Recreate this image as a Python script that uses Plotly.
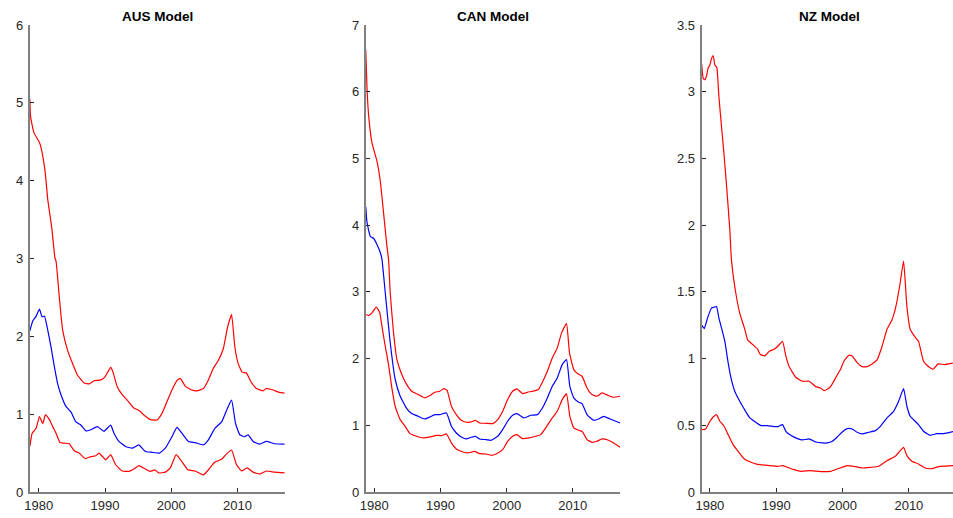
import plotly.graph_objects as go

# ---------------- data ----------------
titles = ["AUS Model", "CAN Model", "NZ Model"]
x_ticks = [1980, 1990, 2000, 2010]

aus_upper_x = [1978.65, 1978.75, 1979.25, 1980.1, 1980.35, 1980.95, 1981.35, 1981.95, 1982.45, 1982.6, 1983.1, 1983.6,
               1984.35, 1985.1, 1985.85, 1986.85, 1987.6, 1988.35, 1989.35, 1990.0, 1990.85, 1991.2, 1991.85, 1992.6,
               1993.35, 1994.35, 1995.1, 1995.85, 1996.85, 1997.85, 1998.6, 1999.35, 2000.1, 2000.85, 2001.35, 2002.1,
               2003.1, 2003.85, 2004.85, 2005.6, 2006.35, 2007.1, 2007.85, 2008.5, 2009.1, 2009.6, 2010.1, 2010.7,
               2011.35, 2012.0, 2012.85, 2013.85, 2014.35, 2015.35, 2016.35, 2017.1]
aus_upper_y = [5.05, 4.83, 4.62, 4.49, 4.42, 4.12, 3.76, 3.40, 3.00, 2.97, 2.50, 2.08,
               1.82, 1.65, 1.50, 1.40, 1.39, 1.43, 1.44, 1.48, 1.60, 1.54, 1.35, 1.25,
               1.18, 1.08, 1.05, 0.99, 0.93, 0.925, 1.01, 1.16, 1.31, 1.43, 1.46, 1.36,
               1.31, 1.30, 1.33, 1.44, 1.59, 1.69, 1.84, 2.12, 2.28, 1.86, 1.65, 1.54,
               1.53, 1.42, 1.33, 1.30, 1.33, 1.31, 1.28, 1.27]

aus_mid_x = [1978.65, 1979.1, 1979.6, 1980.1, 1980.5, 1980.85, 1981.35, 1981.85, 1982.35, 1982.85, 1983.35, 1984.1,
             1984.85, 1985.6, 1986.35, 1987.1, 1987.85, 1988.85, 1989.85, 1990.85, 1991.35, 1992.1, 1993.1, 1994.1,
             1995.1, 1996.1, 1997.1, 1998.2, 1999.1, 2000.1, 2000.85, 2001.6, 2002.6, 2003.6, 2004.85, 2005.6,
             2006.6, 2007.6, 2008.35, 2009.1, 2009.7, 2010.35, 2011.1, 2011.6, 2012.35, 2013.35, 2014.35, 2015.6,
             2017.1]
aus_mid_y = [2.07, 2.20, 2.26, 2.35, 2.25, 2.26, 2.08, 1.86, 1.61, 1.39, 1.25, 1.10,
             1.03, 0.90, 0.86, 0.785, 0.80, 0.84, 0.78, 0.86, 0.755, 0.65, 0.585, 0.563,
             0.605, 0.52, 0.51, 0.50, 0.563, 0.71, 0.83, 0.755, 0.65, 0.635, 0.605, 0.67,
             0.82, 0.90, 1.05, 1.18, 0.88, 0.735, 0.71, 0.735, 0.65, 0.615, 0.65, 0.62,
             0.615]

aus_lower_x = [1978.65, 1979.0, 1979.6, 1980.1, 1980.6, 1981.0, 1981.6, 1982.1, 1982.6, 1983.2, 1983.85, 1984.6,
               1985.35, 1986.1, 1987.0, 1987.85, 1988.6, 1989.1, 1990.1, 1990.85, 1991.6, 1992.6, 1993.6, 1994.35,
               1995.1, 1996.1, 1996.85, 1997.5, 1998.1, 1999.1, 1999.85, 2000.75, 2001.6, 2002.5, 2003.6, 2004.85,
               2005.6, 2006.5, 2007.6, 2008.35, 2009.1, 2009.85, 2010.6, 2011.45, 2012.35, 2013.35, 2014.35, 2015.6,
               2017.1]
aus_lower_y = [0.585, 0.755, 0.82, 0.97, 0.88, 0.99, 0.93, 0.84, 0.755, 0.635, 0.627, 0.62,
               0.53, 0.50, 0.43, 0.455, 0.465, 0.50, 0.415, 0.48, 0.35, 0.27, 0.265, 0.295,
               0.34, 0.295, 0.265, 0.285, 0.245, 0.255, 0.31, 0.48, 0.39, 0.285, 0.27, 0.22,
               0.285, 0.38, 0.42, 0.49, 0.54, 0.35, 0.27, 0.31, 0.255, 0.23, 0.27, 0.255,
               0.245]

can_upper_x = [1978.7, 1978.9, 1979.15, 1979.65, 1980.4, 1980.9, 1981.4, 1981.9, 1982.15, 1982.4, 1982.9, 1983.4,
               1984.15, 1984.9, 1985.65, 1986.65, 1987.65, 1988.4, 1989.15, 1989.9, 1990.5, 1991.0, 1991.65, 1992.4,
               1993.15, 1993.9, 1994.65, 1995.3, 1995.9, 1996.9, 1997.9, 1998.65, 1999.4, 2000.15, 2000.9, 2001.55,
               2002.4, 2003.15, 2003.9, 2004.8, 2005.4, 2006.15, 2006.9, 2007.65, 2008.3, 2009.05, 2009.5, 2010.15,
               2010.8, 2011.4, 2012.15, 2012.9, 2013.65, 2014.4, 2015.4, 2016.15, 2017.15]
can_upper_y = [6.63, 6.04, 5.63, 5.23, 4.96, 4.66, 4.18, 3.69, 3.49, 2.99, 2.39, 1.99,
               1.76, 1.61, 1.51, 1.46, 1.41, 1.445, 1.495, 1.51, 1.55, 1.525, 1.285, 1.16,
               1.075, 1.045, 1.05, 1.075, 1.035, 1.03, 1.025, 1.085, 1.21, 1.385, 1.51, 1.545,
               1.475, 1.495, 1.51, 1.535, 1.645, 1.81, 2.01, 2.16, 2.385, 2.525, 2.085, 1.835,
               1.77, 1.735, 1.56, 1.46, 1.435, 1.485, 1.445, 1.42, 1.435]

can_mid_x = [1978.7, 1978.9, 1979.4, 1979.9, 1980.4, 1980.9, 1981.15, 1981.65, 1982.4, 1983.15, 1983.9, 1984.9,
             1985.65, 1986.4, 1987.15, 1987.65, 1988.4, 1989.15, 1989.9, 1990.9, 1991.65, 1992.4, 1993.15, 1993.9,
             1994.65, 1995.3, 1995.9, 1996.9, 1997.65, 1998.65, 1999.4, 2000.15, 2000.9, 2001.55, 2002.65, 2003.65,
             2004.65, 2005.4, 2006.15, 2006.9, 2007.65, 2008.4, 2009.05, 2009.55, 2010.15, 2010.9, 2011.4, 2012.15,
             2013.15, 2013.9, 2014.65, 2015.65, 2017.15]
can_mid_y = [4.28, 4.04, 3.83, 3.80, 3.71, 3.59, 3.49, 2.99, 2.24, 1.69, 1.44, 1.25,
             1.175, 1.145, 1.11, 1.095, 1.125, 1.16, 1.16, 1.185, 0.985, 0.885, 0.825, 0.795,
             0.82, 0.835, 0.795, 0.785, 0.775, 0.835, 0.935, 1.06, 1.15, 1.175, 1.11, 1.15,
             1.16, 1.26, 1.41, 1.585, 1.71, 1.91, 1.985, 1.585, 1.41, 1.345, 1.325, 1.16,
             1.075, 1.095, 1.135, 1.095, 1.035]

can_lower_x = [1978.7, 1979.15, 1979.65, 1980.3, 1980.8, 1981.15, 1981.65, 1982.15, 1982.65, 1983.15, 1983.9, 1984.65,
               1985.4, 1986.4, 1987.4, 1988.4, 1989.4, 1990.15, 1990.9, 1991.65, 1992.4, 1993.4, 1994.15, 1995.15,
               1995.9, 1996.9, 1997.65, 1998.4, 1999.4, 2000.15, 2000.9, 2001.55, 2002.4, 2003.4, 2004.4, 2005.15,
               2005.9, 2006.9, 2007.65, 2008.4, 2009.05, 2009.55, 2010.15, 2010.9, 2011.4, 2012.15, 2012.9, 2013.65,
               2014.4, 2015.4, 2016.4, 2017.15]
can_lower_y = [2.66, 2.645, 2.685, 2.77, 2.695, 2.485, 2.185, 1.91, 1.56, 1.285, 1.085, 0.985,
               0.875, 0.835, 0.81, 0.825, 0.85, 0.845, 0.87, 0.735, 0.645, 0.60, 0.585, 0.61,
               0.575, 0.57, 0.55, 0.57, 0.635, 0.76, 0.835, 0.86, 0.80, 0.81, 0.835, 0.86,
               0.96, 1.11, 1.21, 1.385, 1.47, 1.135, 0.96, 0.925, 0.91, 0.785, 0.745, 0.76,
               0.795, 0.775, 0.72, 0.67]

nz_upper_x = [1978.75, 1979.0, 1979.25, 1979.5, 1979.75, 1980.0, 1980.25, 1980.5, 1980.75, 1981.05, 1981.35, 1981.75,
              1982.15, 1982.55, 1983.0, 1983.25, 1983.75, 1984.5, 1985.2, 1985.7, 1986.45, 1987.2, 1987.6, 1988.3,
              1988.95, 1989.7, 1990.2, 1990.95, 1991.45, 1991.95, 1992.95, 1993.95, 1994.95, 1995.95, 1996.7, 1997.2,
              1997.7, 1998.2, 1998.95, 1999.7, 2000.2, 2000.95, 2001.45, 2002.2, 2002.95, 2003.7, 2004.45, 2005.2,
              2005.95, 2006.7, 2007.45, 2007.95, 2008.6, 2009.2, 2009.7, 2010.2, 2010.95, 2011.45, 2012.2, 2012.95,
              2013.65, 2014.4, 2015.4, 2016.65, 2017.1]
nz_upper_y = [3.21, 3.10, 3.09, 3.12, 3.18, 3.20, 3.25, 3.27, 3.20, 3.18, 2.97, 2.74,
              2.52, 2.27, 1.97, 1.74, 1.54, 1.34, 1.23, 1.14, 1.105, 1.07, 1.03, 1.02,
              1.055, 1.07, 1.09, 1.13, 1.02, 0.94, 0.86, 0.83, 0.83, 0.79, 0.78, 0.76,
              0.77, 0.79, 0.855, 0.92, 0.98, 1.025, 1.02, 0.97, 0.94, 0.94, 0.96, 0.99,
              1.09, 1.22, 1.29, 1.37, 1.54, 1.73, 1.39, 1.22, 1.16, 1.13, 0.98, 0.94,
              0.92, 0.96, 0.955, 0.967, 0.97]

nz_mid_x = [1978.75, 1979.15, 1979.65, 1980.25, 1980.65, 1981.0, 1981.35, 1981.75, 1982.25, 1982.75, 1983.25, 1983.75,
            1984.5, 1985.2, 1985.95, 1986.7, 1987.7, 1988.7, 1989.7, 1990.3, 1990.95, 1991.45, 1992.2, 1993.2,
            1993.95, 1994.95, 1995.95, 1996.95, 1997.7, 1998.45, 1999.2, 1999.95, 2000.7, 2001.45, 2002.2, 2002.95,
            2003.95, 2004.95, 2005.7, 2006.7, 2007.7, 2008.45, 2009.2, 2009.7, 2010.2, 2010.95, 2011.45, 2012.2,
            2013.2, 2014.2, 2015.2, 2016.65, 2017.1]
nz_mid_y = [1.25, 1.225, 1.305, 1.38, 1.385, 1.39, 1.305, 1.23, 1.13, 0.97, 0.84, 0.755,
            0.68, 0.62, 0.56, 0.53, 0.4975, 0.4975, 0.49, 0.49, 0.505, 0.455, 0.425, 0.40,
            0.39, 0.3975, 0.375, 0.3675, 0.3675, 0.38, 0.4125, 0.45, 0.475, 0.4725, 0.4475, 0.435,
            0.4475, 0.46, 0.4925, 0.555, 0.605, 0.68, 0.775, 0.6425, 0.5675, 0.53, 0.505, 0.455,
            0.425, 0.4375, 0.4375, 0.452, 0.46]

nz_lower_x = [1978.75, 1979.35, 1980.0, 1980.5, 1981.0, 1981.5, 1982.15, 1982.75, 1983.5, 1984.25, 1985.2, 1986.2,
              1987.2, 1988.7, 1990.2, 1990.95, 1991.7, 1992.7, 1993.7, 1995.2, 1996.7, 1998.2, 1999.2, 2000.7,
              2001.7, 2002.95, 2004.2, 2005.45, 2006.7, 2007.95, 2008.7, 2009.2, 2009.7, 2010.45, 2011.45, 2012.45,
              2013.45, 2014.7, 2016.65, 2017.1]
nz_lower_y = [0.4675, 0.4725, 0.53, 0.5625, 0.58, 0.53, 0.4925, 0.43, 0.355, 0.305, 0.2475, 0.2225,
              0.2075, 0.20, 0.1925, 0.1975, 0.185, 0.1675, 0.155, 0.16, 0.1525, 0.155, 0.1725, 0.1975,
              0.1925, 0.18, 0.185, 0.1925, 0.235, 0.2675, 0.31, 0.335, 0.2725, 0.23, 0.21, 0.18,
              0.175, 0.1925, 0.197, 0.20]

# ---------------- figure ----------------
W, H = 953, 518
m_t, m_b = 25, 26
font_family = "Liberation Sans, Arial, Helvetica, sans-serif"

panels = [
    dict(series=[(aus_upper_x, aus_upper_y, "red"), (aus_mid_x, aus_mid_y, "blue"), (aus_lower_x, aus_lower_y, "red")],
         xdom=[24 / W, 281 / W], xrange=[1978.65, 2017.2], yrange=[0, 6], dtick=1),
    dict(series=[(can_upper_x, can_upper_y, "red"), (can_mid_x, can_mid_y, "blue"), (can_lower_x, can_lower_y, "red")],
         xdom=[362 / W, 618 / W], xrange=[1978.7, 2017.15], yrange=[0, 7], dtick=1),
    dict(series=[(nz_upper_x, nz_upper_y, "red"), (nz_mid_x, nz_mid_y, "blue"), (nz_lower_x, nz_lower_y, "red")],
         xdom=[700 / W, 1.0], xrange=[1978.75, 2016.65], yrange=[0, 3.5], dtick=0.5),
]

fig = go.Figure()
axis_common = dict(showgrid=False, zeroline=False, showline=True, linecolor="#808080", linewidth=2,
                   ticks="inside", ticklen=4, tickcolor="#262626", tickwidth=1,
                   tickfont=dict(family=font_family, size=13, color="#262626"), mirror=False)

color_map = {"red": "#ff0000", "blue": "#0000ff"}
for i, p in enumerate(panels):
    idx = "" if i == 0 else str(i + 1)
    for sx, sy, c in p["series"]:
        fig.add_trace(go.Scatter(x=sx, y=sy, mode="lines",
                                 line=dict(color=color_map[c], width=1.2, shape="spline", smoothing=0.4),
                                 xaxis="x" + idx, yaxis="y" + idx, showlegend=False, hoverinfo="skip"))
    fig.update_layout(**{
        "xaxis" + idx: dict(axis_common, domain=p["xdom"], range=p["xrange"], tickmode="array",
                            tickvals=x_ticks, anchor="y" + idx),
        "yaxis" + idx: dict(axis_common, domain=[0, 1], range=p["yrange"], dtick=p["dtick"], tick0=0,
                            anchor="x" + idx, ticklabelstandoff=2),
    })
    fig.add_annotation(text="<b>%s</b>" % titles[i], xref="paper", yref="paper",
                       x=(p["xdom"][0] + p["xdom"][1]) / 2 if i < 2 else (700 + 128.5) / W,
                       y=1 + 9 / (H - m_t - m_b), xanchor="center", yanchor="middle", showarrow=False,
                       font=dict(family=font_family, size=13.5, color="#000000"))

fig.update_layout(width=W, height=H, margin=dict(l=0, r=0, t=m_t, b=m_b),
                  paper_bgcolor="white", plot_bgcolor="white")

fig.write_html("out.html")
